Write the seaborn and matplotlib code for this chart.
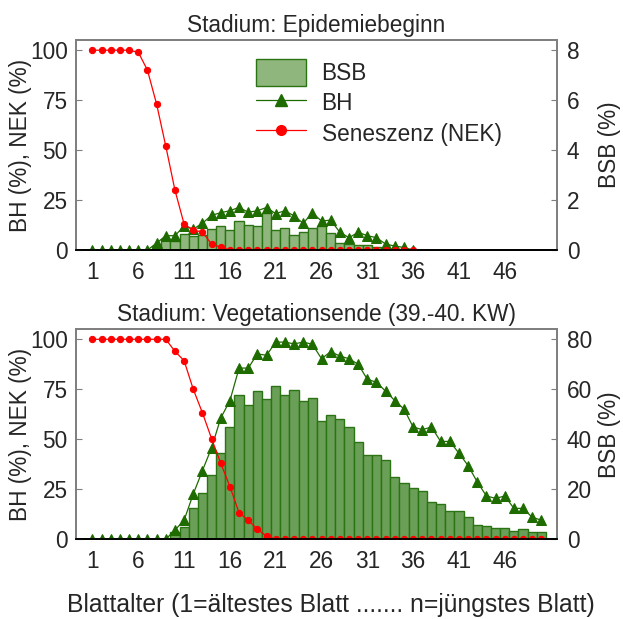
import matplotlib
matplotlib.use("Agg")
import matplotlib.pyplot as plt
from matplotlib.patches import Patch
from matplotlib.lines import Line2D
import seaborn as sns
import pandas as pd

# Leaf position (1 = oldest leaf)
leaf_top = list(range(1, 37))
leaf_bottom = list(range(1, 51))

# Stage 1: start of epidemic
nek_top = [100, 100, 100, 100, 100, 99, 90, 73, 52, 30, 13, 10, 9, 3, 1.5,
           0, 0, 0, 0, 0, 0, 0, 0, 0, 0, 0, 0, 0, 0, 0, 0, 0, 0, 0, 0, 0]
bh_top = [0, 0, 0, 0, 0, 0, 0, 3.5, 7.2, 7.2, 12, 10.5, 13.4, 17.4, 18.7, 19.7,
          21.4, 18.9, 19.7, 21.3, 18.2, 19.7, 17.1, 13.4, 18.7, 14.5, 15, 8.9,
          6.2, 8.9, 7.2, 6.2, 3, 2, 1.3, 0]
bsb_top = [0, 0, 0, 0, 0, 0, 0, 0.16, 0.44, 0.37, 0.64, 0.56, 0.6, 0.85, 0.95,
           0.79, 1.16, 1.0, 0.96, 1.47, 0.79, 0.87, 0.6, 0.72, 0.88, 0.97, 0.67,
           0.27, 0.24, 0.21, 0.19, 0.11, 0.08, 0.05, 0.03, 0]

# Stage 2: end of vegetation period
nek_bottom = [100, 100, 100, 100, 100, 100, 100, 100, 100, 94, 89.3, 75, 63.2,
              50.3, 38, 26.3, 13.2, 9.5, 4.9, 1.5, 0, 0, 0, 0, 0, 0, 0, 0, 0, 0,
              0, 0, 0, 0, 0, 0, 0, 0, 0, 0, 0, 0, 0, 0, 0, 0, 0, 0, 0, 0]
bh_bottom = [0, 0, 0, 0, 0, 0, 0, 0, 0, 4.5, 9.5, 22.6, 34.3, 45.7, 60.6, 69.3,
             85.6, 85.6, 92.7, 92, 98.6, 98.6, 97.7, 98.6, 97.5, 90.3, 93.8, 91.6,
             90.3, 87.5, 80, 78.5, 74, 69.3, 65.1, 56.1, 54.8, 56.1, 48.9, 48.9,
             43, 36.8, 28.6, 21.6, 20.4, 21.6, 15.4, 15.4, 10.9, 9.5]
bsb_bottom = [0, 0, 0, 0, 0, 0, 0, 0, 0, 2.9, 4.9, 12.3, 18.4, 25.7, 34.4, 44.9,
              57.9, 53.9, 59.5, 56.2, 61.5, 57.9, 59.8, 55.5, 56.7, 47.4, 49.6, 48,
              44.8, 38.7, 33.5, 33.8, 31.5, 24.8, 22.6, 20.6, 19.4, 14.9, 14.1, 11.1,
              11.4, 8.7, 5.6, 5.4, 4.5, 4.5, 3.1, 4.0, 2.7, 2.7]

x_ticks = [1, 6, 11, 16, 21, 26, 31, 36, 41, 46]
left_ticks = [0, 25, 50, 75, 100]
right_ticks_top = [0, 2, 4, 6, 8]
right_ticks_bottom = [0, 20, 40, 60, 80]

titles = ["Stadium: Epidemiebeginn", "Stadium: Vegetationsende (39.-40. KW)"]
xlabel = "Blattalter (1=ältestes Blatt ....... n=jüngstes Blatt)"

sns.set_style("white")
plt.rcParams["font.family"] = ["Liberation Sans", "DejaVu Sans"]

GREEN_LINE = "#1e6b00"
GREEN_EDGE = "#2a7414"
BAR_LIGHT = "#8fb67c"
BAR_DARK = "#6a9f57"
RED = "#ff0000"
SPINE = "#7f7f7f"
FS = 16.3

fig = plt.figure(figsize=(6.23, 6.19), dpi=100)
ax_top = fig.add_axes([0.122, 0.596, 0.772, 0.339])
ax_bot = fig.add_axes([0.122, 0.129, 0.772, 0.339])


def draw_panel(ax, leaf, nek, bh, bsb, bar_color, rmax, rticks, title):
    ax2 = ax.twinx()
    df = pd.DataFrame({"leaf": leaf, "nek": nek, "bh": bh, "bsb": bsb})
    sns.barplot(data=df, x="leaf", y="bsb", native_scale=True, width=1.0,
                color=bar_color, saturation=1, edgecolor=GREEN_EDGE,
                linewidth=1.0, errorbar=None, ax=ax2)
    sns.lineplot(data=df, x="leaf", y="bh", color=GREEN_LINE, marker="^",
                 markersize=6.5, markeredgecolor=GREEN_LINE, linewidth=0.9, ax=ax)
    sns.lineplot(data=df, x="leaf", y="nek", color=RED, marker="o",
                 markersize=4.5, markeredgecolor=RED, linewidth=0.9, ax=ax)
    ax.set_zorder(ax2.get_zorder() + 1)
    ax.patch.set_visible(False)

    ax.set_xlim(-0.8, 51.7)
    ax.set_ylim(0, 105)
    ax2.set_ylim(0, rmax * 1.05)
    ax.set_xticks(x_ticks)
    ax.set_xticklabels([str(t) for t in x_ticks])
    ax.set_yticks(left_ticks)
    ax2.set_yticks(rticks)
    ax.set_xlabel("")
    ax.set_ylabel("BH (%), NEK (%)", fontsize=FS)
    ax.yaxis.set_label_coords(-0.0925, 0.5)
    ax2.set_xlabel("")
    ax2.set_ylabel("BSB (%)", fontsize=FS)
    ax2.yaxis.set_label_coords(1.086, 0.5)
    ax.set_title(title, fontsize=FS, pad=6)

    ax.tick_params(axis="x", length=0, labelsize=FS, pad=8)
    ax.tick_params(axis="y", direction="in", length=4, color=SPINE,
                   labelsize=FS, pad=6)
    ax2.tick_params(axis="y", direction="in", length=4, color=SPINE,
                    labelsize=FS, pad=7)
    for a in (ax, ax2):
        for side in ("left", "right", "top"):
            a.spines[side].set_color(SPINE)
            a.spines[side].set_linewidth(1.3)
        a.spines["bottom"].set_color("black")
        a.spines["bottom"].set_linewidth(1.3)
    return ax2


draw_panel(ax_top, leaf_top, nek_top, bh_top, bsb_top, BAR_LIGHT, 8,
           right_ticks_top, titles[0])
draw_panel(ax_bot, leaf_bottom, nek_bottom, bh_bottom, bsb_bottom, BAR_DARK, 80,
           right_ticks_bottom, titles[1])

handles = [
    Patch(facecolor=BAR_LIGHT, edgecolor=GREEN_EDGE, linewidth=1.0),
    Line2D([], [], color=GREEN_LINE, marker="^", markersize=8, linewidth=0.9),
    Line2D([], [], color=RED, marker="o", markersize=7, linewidth=0.9),
]
ax_top.legend(handles, ["BSB", "BH", "Seneszenz (NEK)"], loc="upper left",
              bbox_to_anchor=(0.374, 0.912), frameon=False, fontsize=FS,
              handlelength=2.2, handleheight=1.45, labelspacing=0.16,
              handletextpad=0.7, borderpad=0, borderaxespad=0)

fig.text(0.531, 0.023, xlabel, fontsize=17.8, ha="center", va="center")

fig.savefig("out.png", dpi=100)
